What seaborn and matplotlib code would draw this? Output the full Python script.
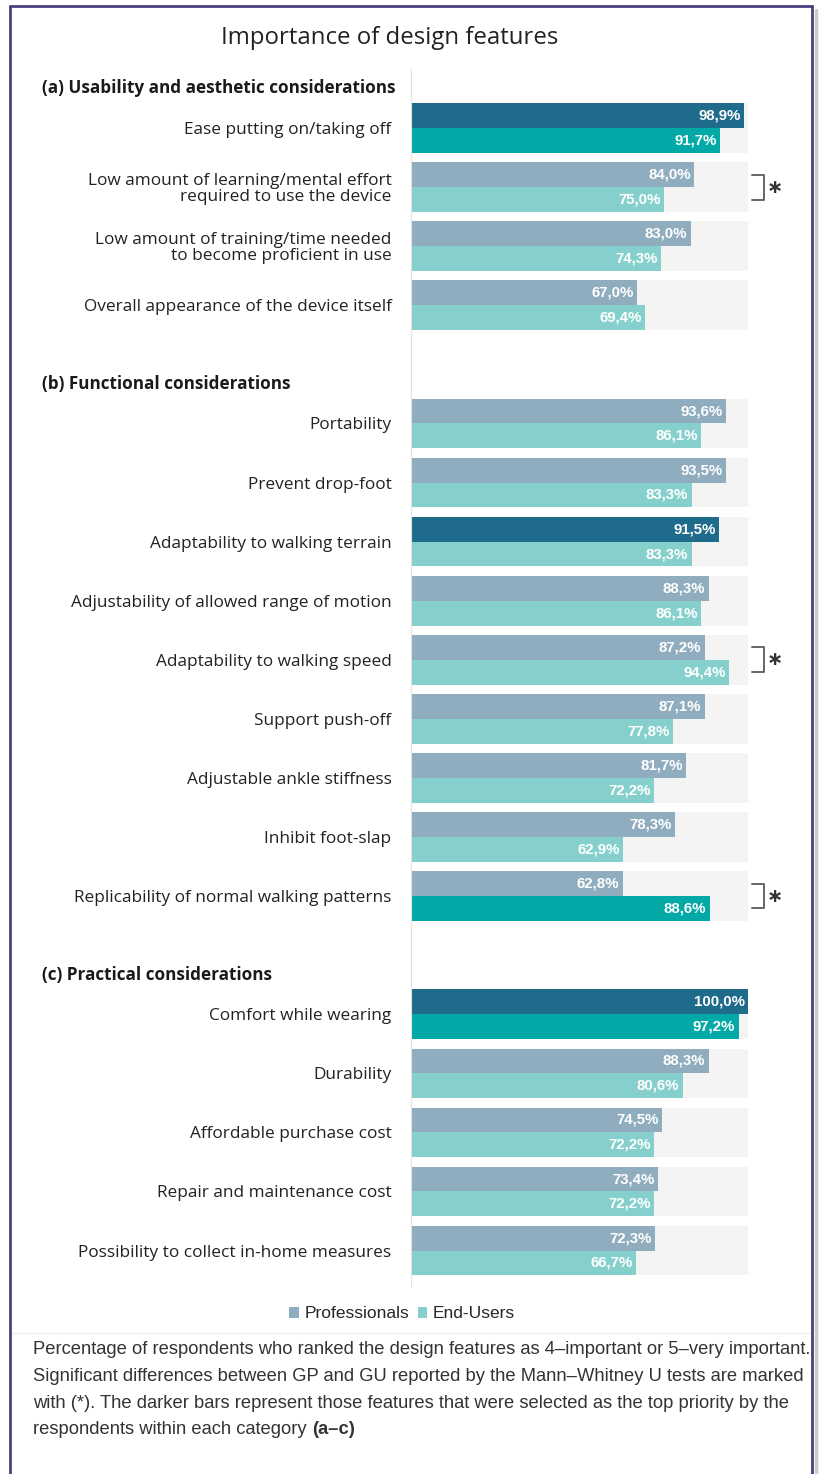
import pandas as pd
import matplotlib.pyplot as plt
import matplotlib.transforms as mtransforms
import seaborn as sns
from matplotlib.lines import Line2D
from matplotlib.patches import Patch

# ------------------------------------------
# Data
# ------------------------------------------
features_a = [
    "Ease putting on/taking off",
    "Low amount of learning/mental effort\nrequired to use the device",
    "Low amount of training/time needed\nto become proficient in use",
    "Overall appearance of the device itself",
]
prof_a = [98.9, 84.0, 83.0, 67.0]
end_a = [91.7, 75.0, 74.3, 69.4]

features_b = [
    "Portability",
    "Prevent drop-foot",
    "Adaptability to walking terrain",
    "Adjustability of allowed range of motion",
    "Adaptability to walking speed",
    "Support push-off",
    "Adjustable ankle stiffness",
    "Inhibit foot-slap",
    "Replicability of normal walking patterns",
]
prof_b = [93.6, 93.5, 91.5, 88.3, 87.2, 87.1, 81.7, 78.3, 62.8]
end_b = [86.1, 83.3, 83.3, 86.1, 94.4, 77.8, 72.2, 62.9, 88.6]

features_c = [
    "Comfort while wearing",
    "Durability",
    "Affordable purchase cost",
    "Repair and maintenance cost",
    "Possibility to collect in-home measures",
]
prof_c = [100.0, 88.3, 74.5, 73.4, 72.3]
end_c = [97.2, 80.6, 72.2, 72.2, 66.7]

section_titles = [
    "(a) Usability and aesthetic considerations",
    "(b) Functional considerations",
    "(c) Practical considerations",
]
groups = ["Professionals", "End-Users"]

# top priority bars (darker) and significant differences (*)
top_prof = ["Ease putting on/taking off", "Adaptability to walking terrain", "Comfort while wearing"]
top_end = ["Ease putting on/taking off", "Replicability of normal walking patterns", "Comfort while wearing"]
significant = [
    "Low amount of learning/mental effort\nrequired to use the device",
    "Adaptability to walking speed",
    "Replicability of normal walking patterns",
]

caption = [
    "Percentage of respondents who ranked the design features as 4\u2013important or 5\u2013very important.",
    "Significant differences between GP and GU reported by the Mann\u2013Whitney U tests are marked",
    "with (*). The darker bars represent those features that were selected as the top priority by the",
    "respondents within each category ",
]

# ------------------------------------------
# Colors
# ------------------------------------------
c_prof = "#8fadbf"
c_end = "#85d0cc"
c_prof_dark = "#1e6b8c"
c_end_dark = "#02a9a6"
c_back = "#f4f4f4"

# ------------------------------------------
# Build tables
# ------------------------------------------
order = features_a + ["gap_b"] + features_b + ["gap_c"] + features_c
all_feat = features_a + features_b + features_c
all_prof = prof_a + prof_b + prof_c
all_end = end_a + end_b + end_c

df = pd.DataFrame({
    "feature": all_feat * 2,
    "group": [groups[0]] * len(all_feat) + [groups[1]] * len(all_feat),
    "value": all_prof + all_end,
})
bg = pd.DataFrame({"feature": all_feat, "value": [100.0] * len(all_feat)})

# ------------------------------------------
# Plot
# ------------------------------------------
sns.set_style("white")
plt.rcParams["font.family"] = ["Open Sans", "DejaVu Sans"]
num_font = ["Liberation Sans", "DejaVu Sans"]

fig = plt.figure(figsize=(8.19, 14.74), dpi=100)
ax = fig.add_axes([411 / 819, 1 - 1286 / 1474, 337 / 819, 1217 / 1474])

sns.barplot(data=bg, y="feature", x="value", order=order, color=c_back,
            width=0.84, saturation=1, errorbar=None, orient="h", linewidth=0, ax=ax)
sns.barplot(data=df, y="feature", x="value", hue="group", order=order,
            hue_order=groups, palette=[c_prof, c_end], width=0.84,
            saturation=1, errorbar=None, orient="h", legend=False, linewidth=0, ax=ax)

# recolor top-priority bars and add value labels
for k, cont in enumerate(ax.containers[1:3]):
    for bar in cont:
        w = bar.get_width()
        if pd.isna(w) or w == 0:
            continue
        slot = int(round(bar.get_y() + bar.get_height() / 2))
        feat = order[slot]
        if k == 0 and feat in top_prof:
            bar.set_facecolor(c_prof_dark)
        if k == 1 and feat in top_end:
            bar.set_facecolor(c_end_dark)
        ax.text(w - 1.0, bar.get_y() + bar.get_height() / 2,
                f"{w:.1f}%".replace(".", ","), ha="right", va="center",
                color="white", fontsize=10.8, fontweight="bold", family=num_font)

# significance brackets
for feat in significant:
    s = order.index(feat)
    ax.plot([101.2, 104.8, 104.8, 101.2], [s - 0.21, s - 0.21, s + 0.21, s + 0.21],
            color="#666666", lw=1.4, clip_on=False)
    ax.text(108.0, s, "\u2217", ha="center", va="center", fontsize=14,
            fontweight="bold", color="#333333", clip_on=False, family="DejaVu Sans")

# section headers
head_tr = mtransforms.blended_transform_factory(fig.transFigure, ax.transData)
starts = [0, order.index(features_b[0]), order.index(features_c[0])]
for title, s in zip(section_titles, starts):
    ax.text(42 / 819, s - 0.67, title, transform=head_tr, ha="left", va="center",
            fontsize=12.3, fontweight="bold", color="#1a1a1a", clip_on=False)

ax.set_yticks([order.index(f) for f in all_feat])
ax.set_yticklabels(all_feat, fontsize=12.4, color="#222222", linespacing=1.0)
ax.tick_params(axis="y", length=0, pad=14)
ax.set_xticks([])
ax.set_xlim(0, 100)
ax.set_ylim(19.6, -1.0)
ax.set_xlabel("")
ax.set_ylabel("")
for sp in ["top", "right", "bottom"]:
    ax.spines[sp].set_visible(False)
ax.spines["left"].set_color("#e2e2e2")
ax.spines["left"].set_linewidth(0.8)

# title
fig.text(390 / 819, 1 - 38 / 1474, "Importance of design features",
         ha="center", va="center", fontsize=17.3, color="#222222")

# legend
handles = [Patch(facecolor=c_prof, edgecolor="none"), Patch(facecolor=c_end, edgecolor="none")]
fig.legend(handles, groups, loc="center", bbox_to_anchor=(402 / 819, 1 - 1314 / 1474),
           ncol=2, frameon=False, handlelength=0.55, handleheight=0.55,
           handletextpad=0.3, columnspacing=0.5,
           prop={"family": num_font, "size": 12.5})

# separator and caption
fig.add_artist(Line2D([12 / 819, 810 / 819], [1 - 1333 / 1474] * 2,
                      transform=fig.transFigure, color="#f0f0f0", lw=1))
renderer = fig.canvas.get_renderer()
probe = fig.text(0, 0, caption[0], fontsize=13, family=num_font)
cap_size = 13 * 774 / probe.get_window_extent(renderer).width
probe.remove()
for i, line in enumerate(caption):
    t = fig.text(33 / 819, 1 - (1350 + i * 26.5) / 1474, line, ha="left", va="center",
                 fontsize=cap_size, color="#333333", family=num_font)
bb = t.get_window_extent(renderer)
fig.text(bb.x1 / 819, 1 - (1350 + 3 * 26.5) / 1474, "(a\u2013c)", ha="left",
         va="center", fontsize=cap_size, fontweight="bold", color="#333333", family=num_font)

# frame
frame = "#4b3f80"
fig.add_artist(Line2D([10 / 819, 10 / 819], [0, 1 - 6 / 1474], transform=fig.transFigure, color=frame, lw=2))
fig.add_artist(Line2D([812 / 819, 812 / 819], [0, 1 - 6 / 1474], transform=fig.transFigure, color=frame, lw=2))
fig.add_artist(Line2D([10 / 819, 812 / 819], [1 - 6 / 1474] * 2, transform=fig.transFigure, color=frame, lw=2))
fig.add_artist(Line2D([815.5 / 819, 815.5 / 819], [0, 1 - 10 / 1474], transform=fig.transFigure, color="#cccccc", lw=2.5))

fig.savefig("out.png", dpi=100, facecolor="white")
